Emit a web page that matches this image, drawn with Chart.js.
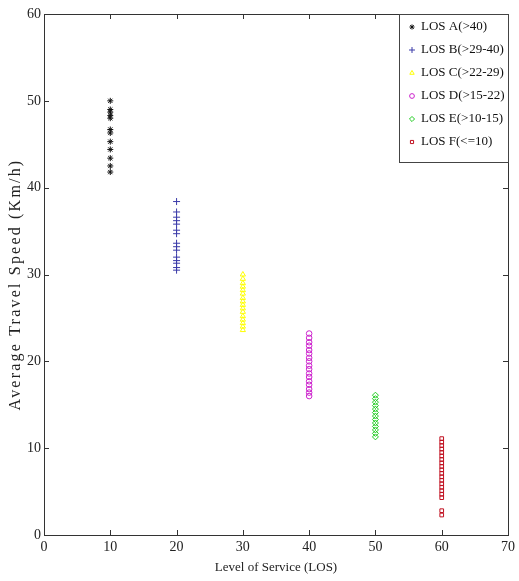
<!DOCTYPE html>
<html>
<head>
<meta charset="utf-8">
<script src="https://cdn.jsdelivr.net/npm/chart.js@4"></script>
<style>
html,body{margin:0;padding:0;background:#fff;}
#wrap{width:519px;height:581px;position:relative;}
</style>
</head>
<body>
<div id="wrap"><canvas id="c" width="519" height="581"></canvas></div>
<script>
// ---- data ----
const losLevels = [10, 20, 30, 40, 50, 60];
const seriesLabels = ['LOS A(>40)', 'LOS B(>29-40)', 'LOS C(>22-29)', 'LOS D(>15-22)', 'LOS E(>10-15)', 'LOS F(<=10)'];
const speedA = [50.0, 49.0, 48.7, 48.3, 48.0, 46.7, 46.3, 45.3, 44.4, 43.4, 42.5, 41.8];
const speedB = [38.4, 37.2, 36.6, 36.2, 35.8, 35.1, 34.7, 33.6, 33.2, 32.8, 32.0, 31.6, 31.3, 30.8, 30.5];
const speedC = [30.0, 29.5, 29.0, 28.6, 28.2, 27.8, 27.3, 26.9, 26.5, 26.1, 25.7, 25.2, 24.8, 24.4, 24.0, 23.6];
const speedD = [23.2, 22.7, 22.2, 21.8, 21.3, 20.9, 20.4, 20.0, 19.5, 19.1, 18.6, 18.2, 17.7, 17.3, 16.8, 16.4, 16.0];
const speedE = [16.1, 15.7, 15.3, 14.9, 14.5, 14.1, 13.7, 13.3, 12.9, 12.5, 12.1, 11.7, 11.3];
const speedF = [11.1, 10.7, 10.3, 9.9, 9.5, 9.1, 8.7, 8.3, 7.9, 7.5, 7.1, 6.7, 6.3, 5.9, 5.5, 5.1, 4.7, 4.3, 2.8, 2.3];
const xTicks = [0, 10, 20, 30, 40, 50, 60, 70];
const yTicks = [0, 10, 20, 30, 40, 50, 60];
const xTitle = 'Level of Service (LOS)';
const yTitle = 'Average Travel Speed (Km/h)';

const allSpeeds = [speedA, speedB, speedC, speedD, speedE, speedF];
const colors = ['#111111', '#3a3aa8', '#ffff00', '#cc22cc', '#22cc22', '#c01020'];
const styles = ['star', 'cross', 'triangle', 'circle', 'rectRot', 'rect'];
const radii = [3, 3.5, 3, 2.8, 3, 2.6];

const datasets = allSpeeds.map((arr, i) => ({
  label: seriesLabels[i],
  data: arr.map(v => ({x: losLevels[i], y: v})),
  pointStyle: styles[i],
  pointRadius: radii[i],
  borderColor: colors[i],
  backgroundColor: 'rgba(0,0,0,0)',
  borderWidth: 1,
  showLine: false
}));

const serif = "'Liberation Serif', 'DejaVu Serif', serif";

const frame = {
  id: 'frame',
  afterDatasetsDraw(chart) {
    const ctx = chart.ctx, a = chart.chartArea;
    const xs = chart.scales.x, ys = chart.scales.y;
    ctx.save();
    ctx.strokeStyle = '#333';
    ctx.lineWidth = 1;
    ctx.strokeRect(Math.round(a.left) + 0.5, Math.round(a.top) + 0.5, Math.round(a.right - a.left), Math.round(a.bottom - a.top));
    ctx.beginPath();
    xTicks.forEach(v => {
      const px = Math.round(xs.getPixelForValue(v)) + 0.5;
      ctx.moveTo(px, a.bottom); ctx.lineTo(px, a.bottom - 5);
      ctx.moveTo(px, a.top); ctx.lineTo(px, a.top + 5);
    });
    yTicks.forEach(v => {
      const py = Math.round(ys.getPixelForValue(v)) + 0.5;
      ctx.moveTo(a.left, py); ctx.lineTo(a.left + 5, py);
      ctx.moveTo(a.right, py); ctx.lineTo(a.right - 5, py);
    });
    ctx.stroke();
    // legend box
    const lx = 399, ly = Math.round(a.top) + 0.5, lw = Math.round(a.right) - lx, lh = 148;
    ctx.fillStyle = '#fff';
    ctx.fillRect(lx, ly, lw, lh);
    ctx.strokeStyle = '#444';
    ctx.strokeRect(lx + 0.5, ly, lw, lh);
    ctx.font = "13px " + serif;
    ctx.textBaseline = 'middle';
    ctx.textAlign = 'left';
    chart.data.datasets.forEach((ds, i) => {
      const y = 27 + i * 23;
      ctx.strokeStyle = ds.borderColor;
      ctx.fillStyle = 'rgba(0,0,0,0)';
      ctx.lineWidth = 1;
      Chart.helpers.drawPoint(ctx, {pointStyle: ds.pointStyle, radius: ds.pointRadius * 0.85, borderWidth: 1}, 412, y);
      ctx.fillStyle = '#111';
      ctx.fillText(ds.label, 421, y);
    });
    // axis titles
    ctx.fillStyle = '#222';
    ctx.textAlign = 'center';
    ctx.textBaseline = 'middle';
    ctx.font = "13px " + serif;
    ctx.fillText(xTitle, (a.left + a.right) / 2, 568);
    ctx.save();
    ctx.translate(16, (a.top + a.bottom) / 2 + 10);
    ctx.rotate(-Math.PI / 2);
    ctx.font = "16px " + serif;
    try { ctx.letterSpacing = '2.2px'; } catch (e) {}
    ctx.fillText(yTitle, 0, 0);
    ctx.restore();
    ctx.restore();
  }
};

new Chart(document.getElementById('c'), {
  type: 'scatter',
  data: { datasets },
  options: {
    responsive: false,
    animation: false,
    events: [],
    layout: { padding: { left: 0, right: 11, top: 14, bottom: 0 } },
    plugins: { legend: { display: false }, tooltip: { enabled: false } },
    scales: {
      x: {
        type: 'linear', min: 0, max: 70,
        afterBuildTicks(s) { s.ticks = xTicks.map(v => ({value: v})); },
        afterFit(s) { s.height = 46; },
        grid: { display: false, drawTicks: false },
        border: { display: false },
        ticks: { color: '#222', font: { family: serif, size: 14 }, padding: 4 },
        title: { display: false }
      },
      y: {
        type: 'linear', min: 0, max: 60,
        afterBuildTicks(s) { s.ticks = yTicks.map(v => ({value: v})); },
        afterFit(s) { s.width = 44; },
        grid: { display: false, drawTicks: false },
        border: { display: false },
        ticks: { color: '#222', font: { family: serif, size: 14 }, padding: 3 },
        title: { display: false }
      }
    }
  },
  plugins: [frame]
});
</script>
</body>
</html>
